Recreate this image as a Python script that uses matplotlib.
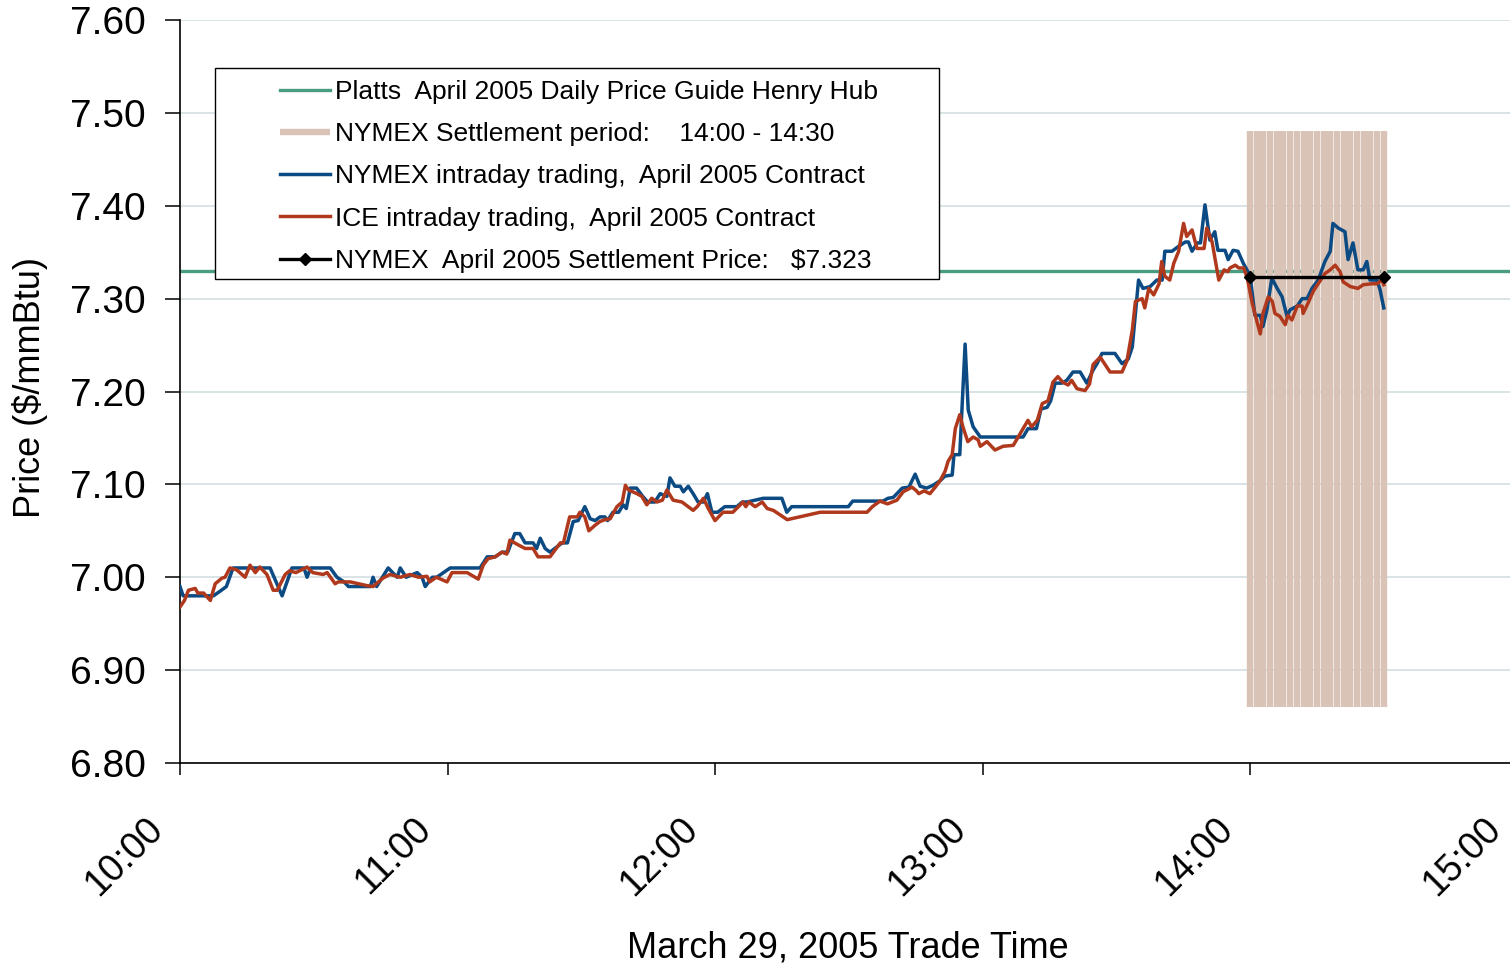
import matplotlib
matplotlib.use("Agg")
import matplotlib.pyplot as plt
from matplotlib.patches import Rectangle
from matplotlib.transforms import ScaledTranslation

plt.rcParams['font.family'] = ['Liberation Sans', 'DejaVu Sans']

# ---------------- data (minutes after 10:00, $/mmBtu) ----------------
nymex_t = [0, 0.7, 7.5, 9, 10.4, 11.9, 20.2, 22.9, 25.1, 27.8,
           28.5, 29.3, 33.7, 35.2, 36.8, 37.8, 42.7, 43.3, 44.1, 46.7,
           48.7, 49.4, 50.7, 53.2, 54.3, 55.0, 56.6, 57.6, 60.6, 67.3,
           68.9, 70.7, 72.2, 73.5, 75.1, 76.2, 77.4, 79.2, 80.0, 80.8,
           81.9, 83.0, 84.6, 85.7, 86.9, 88.2, 89.3, 90.8, 92.0, 93.1,
           94.2, 95.3, 95.9, 97.1, 98.4, 99.4, 100.1, 101.0, 102.4, 103.8,
           104.9, 106.5, 107.7, 109.2, 109.9, 111.0, 112.2, 112.9, 114.0, 115.1,
           116.2, 117.4, 118.3, 119.3, 120.6, 122.2, 124.9, 126.1, 127.2, 130.8,
           135.0, 136.1, 137.2, 149.9, 150.9, 157.7, 158.8, 160.0, 162.0, 163.5,
           164.9, 166.0, 167.5, 168.9, 170.5, 171.6, 173.2, 173.6, 174.9, 176.1,
           176.8, 177.9, 179.5, 189.1, 190.2, 192.1, 193.1, 194.5, 195.3, 196.3,
           197.8, 198.9, 200.3, 201.9, 203.4, 204.8, 205.7, 206.8, 209.7, 211.3,
           212.7, 213.6, 215.0, 216.0, 217.6, 219.1, 220.3, 220.9, 222.5, 223.9,
           225.5, 226.2, 227.0, 228.2, 228.9, 229.9, 231.0, 232.1, 232.8, 234.4,
           235.1, 236.2, 237.3, 238.5, 240.0, 241.1, 242.3, 242.9, 243.8, 244.9,
           246.1, 247.2, 248.3, 249.0, 250.6, 251.7, 252.8, 253.9, 255.3, 256.8,
           258.0, 258.6, 259.8, 261.3, 262.0, 263.1, 264.2, 265.4, 266.2, 266.9,
           268.5, 269.2, 270.0]
nymex_p = [6.99, 6.98, 6.98, 6.985, 6.99, 7.01, 7.01, 6.98, 7.01, 7.01,
           7.00, 7.01, 7.01, 7.00, 6.995, 6.99, 6.99, 7.00, 6.99, 7.01,
           7.00, 7.01, 7.00, 7.005, 7.00, 6.99, 7.00, 7.00, 7.01, 7.01,
           7.022, 7.022, 7.027, 7.027, 7.047, 7.047, 7.037, 7.037, 7.031, 7.042,
           7.031, 7.027, 7.033, 7.037, 7.037, 7.060, 7.061, 7.076, 7.063, 7.061,
           7.065, 7.065, 7.061, 7.070, 7.070, 7.078, 7.074, 7.096, 7.096, 7.087,
           7.081, 7.081, 7.090, 7.087, 7.107, 7.098, 7.098, 7.092, 7.098, 7.090,
           7.081, 7.081, 7.090, 7.070, 7.070, 7.076, 7.076, 7.081, 7.081, 7.085,
           7.085, 7.070, 7.076, 7.076, 7.082, 7.082, 7.085, 7.086, 7.096, 7.097,
           7.111, 7.098, 7.096, 7.099, 7.104, 7.109, 7.110, 7.132, 7.132, 7.251,
           7.180, 7.162, 7.151, 7.151, 7.160, 7.160, 7.181, 7.183, 7.190, 7.209,
           7.209, 7.212, 7.221, 7.221, 7.209, 7.223, 7.230, 7.241, 7.241, 7.230,
           7.235, 7.248, 7.320, 7.311, 7.313, 7.320, 7.320, 7.351, 7.351, 7.356,
           7.361, 7.361, 7.351, 7.360, 7.360, 7.401, 7.363, 7.372, 7.352, 7.352,
           7.342, 7.352, 7.351, 7.338, 7.325, 7.282, 7.282, 7.270, 7.288, 7.322,
           7.311, 7.302, 7.281, 7.288, 7.292, 7.300, 7.300, 7.311, 7.320, 7.340,
           7.351, 7.381, 7.376, 7.372, 7.342, 7.360, 7.331, 7.331, 7.340, 7.320,
           7.320, 7.309, 7.290]

ice_t = [0, 1.0, 1.9, 3.4, 4.0, 5.3, 6.8, 7.9, 9.4, 10.1,
         11.2, 12.7, 14.6, 15.7, 16.9, 17.9, 19.5, 20.9, 21.8, 23.6,
         24.6, 26.0, 28.5, 29.8, 32.1, 33.0, 34.8, 35.5, 38.2, 41.9,
         43.3, 45.5, 47.1, 49.4, 51.6, 53.5, 55.4, 56.0, 57.5, 59.9,
         61.0, 64.4, 66.9, 68.0, 69.1, 70.7, 72.2, 73.3, 74.0, 75.8,
         77.4, 79.2, 80.3, 83.0, 85.3, 86.0, 87.4, 89.1, 89.7, 90.8,
         91.7, 93.1, 94.2, 95.3, 96.5, 98.0, 99.2, 99.9, 100.6, 102.5,
         103.6, 104.7, 105.8, 107.0, 108.2, 109.2, 110.6, 112.6, 114.0, 115.1,
         116.0, 117.4, 118.5, 120.0, 121.8, 124.0, 126.3, 126.9, 127.6, 129.0,
         130.6, 131.7, 133.1, 136.2, 143.6, 154.1, 155.3, 157.0, 158.7, 160.8,
         162.2, 164.2, 165.2, 165.7, 166.9, 168.2, 169.4, 170.5, 171.6, 172.3,
         173.2, 173.9, 174.9, 175.6, 176.7, 177.9, 179.0, 179.5, 181.0, 182.8,
         184.6, 186.9, 188.0, 190.2, 191.0, 192.3, 193.4, 194.7, 195.8, 196.9,
         198.0, 199.2, 200.0, 201.2, 203.0, 204.0, 204.8, 206.4, 208.6, 211.3,
         212.4, 213.6, 214.3, 215.8, 216.4, 217.3, 218.4, 219.6, 220.2, 220.9,
         222.0, 222.9, 224.0, 225.1, 225.8, 227.0, 228.1, 229.7, 230.3, 231.5,
         233.0, 234.2, 235.0, 235.5, 236.7, 237.5, 238.6, 239.4, 240.5, 241.3,
         242.3, 242.9, 244.1, 245.0, 245.6, 246.7, 247.9, 248.5, 249.4, 250.6,
         251.7, 251.9, 253.0, 254.2, 255.3, 256.8, 258.0, 259.1, 260.2, 260.9,
         262.5, 264.2, 265.4, 267.4, 268.5, 269.6, 270.0]
ice_p = [6.968, 6.975, 6.986, 6.988, 6.983, 6.983, 6.975, 6.993, 6.999, 7.000,
         7.010, 7.008, 7.000, 7.013, 7.005, 7.011, 7.003, 6.986, 6.986, 7.003,
         7.007, 7.005, 7.011, 7.005, 7.003, 7.005, 6.993, 6.995, 6.995, 6.991,
         6.990, 6.999, 7.003, 7.000, 7.003, 7.000, 7.001, 6.995, 7.000, 6.995,
         7.005, 7.005, 6.998, 7.013, 7.020, 7.022, 7.027, 7.025, 7.040, 7.035,
         7.031, 7.031, 7.022, 7.022, 7.037, 7.037, 7.065, 7.065, 7.070, 7.065,
         7.050, 7.056, 7.060, 7.062, 7.063, 7.076, 7.081, 7.099, 7.094, 7.090,
         7.087, 7.078, 7.085, 7.081, 7.083, 7.094, 7.083, 7.081, 7.076, 7.072,
         7.076, 7.085, 7.074, 7.061, 7.070, 7.070, 7.081, 7.076, 7.081, 7.076,
         7.081, 7.074, 7.072, 7.062, 7.070, 7.070, 7.076, 7.082, 7.079, 7.083,
         7.092, 7.097, 7.093, 7.090, 7.093, 7.090, 7.097, 7.104, 7.114, 7.125,
         7.132, 7.160, 7.175, 7.162, 7.146, 7.151, 7.148, 7.141, 7.146, 7.137,
         7.141, 7.142, 7.151, 7.169, 7.162, 7.169, 7.187, 7.190, 7.210, 7.216,
         7.210, 7.207, 7.212, 7.203, 7.201, 7.208, 7.229, 7.237, 7.221, 7.221,
         7.233, 7.266, 7.297, 7.300, 7.290, 7.311, 7.304, 7.316, 7.340, 7.324,
         7.320, 7.338, 7.351, 7.381, 7.367, 7.374, 7.354, 7.354, 7.376, 7.361,
         7.320, 7.331, 7.329, 7.333, 7.336, 7.333, 7.333, 7.322, 7.295, 7.280,
         7.262, 7.284, 7.302, 7.297, 7.284, 7.281, 7.272, 7.282, 7.277, 7.292,
         7.292, 7.284, 7.295, 7.308, 7.316, 7.327, 7.331, 7.336, 7.329, 7.318,
         7.313, 7.311, 7.315, 7.316, 7.316, 7.320, 7.315]

platts_price = 7.33
settle_price = 7.323
settle_window = [240, 270]          # 14:00 - 14:30
settle_bar_t = [240, 241.5, 243, 244.5, 246, 247.5, 249, 250.5, 252, 253.5,
                255, 256.5, 258, 259.5, 261, 262.5, 264, 265.5, 267, 268.5, 270]
settle_bar_low, settle_bar_high = 6.86, 7.48

hour_ticks = [0, 60, 120, 180, 240, 300]
hour_labels = ['10:00', '11:00', '12:00', '13:00', '14:00', '15:00']
price_ticks = [6.80, 6.90, 7.00, 7.10, 7.20, 7.30, 7.40, 7.50, 7.60]

labels = ['Platts  April 2005 Daily Price Guide Henry Hub',
          'NYMEX Settlement period:    14:00 - 14:30',
          'NYMEX intraday trading,  April 2005 Contract',
          'ICE intraday trading,  April 2005 Contract',
          'NYMEX  April 2005 Settlement Price:   $7.323']

# ---------------- figure ----------------
W, H = 1510, 968
fig = plt.figure(figsize=(W / 100, H / 100), dpi=100)
ax_l, ax_r, ax_t, ax_b = 180, 1517.5, 20, 763
ax = fig.add_axes([ax_l / W, 1 - ax_b / H, (ax_r - ax_l) / W, (ax_b - ax_t) / H])

GREEN = '#4a9d80'
TAN = '#d9c3b6'
BLUE = '#0b4a82'
RED = '#b0391d'

ax.set_xlim(0, 300)
ax.set_ylim(6.8, 7.6)

h_platts = ax.axhline(platts_price, color=GREEN, lw=2.4, zorder=2, label=labels[0])
h_settle = ax.vlines(settle_bar_t, settle_bar_low, settle_bar_high, colors=TAN,
                     lw=4.6, zorder=3, label=labels[1])
h_nymex, = ax.plot(nymex_t, nymex_p, color=BLUE, lw=2.5, zorder=4, label=labels[2])
h_ice, = ax.plot(ice_t, ice_p, color=RED, lw=2.5, zorder=5, label=labels[3])
h_set, = ax.plot(settle_window, [settle_price, settle_price], color='black', lw=2.4,
                 marker='D', ms=6.5, zorder=6, label=labels[4])

# axes styling
ax.grid(axis='y', color='#d3dfe3', lw=1.2, zorder=0)
ax.set_axisbelow(True)
for s in ['top', 'right']:
    ax.spines[s].set_visible(False)
for s in ['left', 'bottom']:
    ax.spines[s].set_color('black')
    ax.spines[s].set_linewidth(1.2)

ax.set_yticks(price_ticks)
ax.set_yticklabels([f'{v:.2f}' for v in price_ticks])
ax.set_xticks(hour_ticks)
ax.set_xticklabels(hour_labels)
ax.tick_params(axis='y', length=10.8, width=1.1, pad=14, labelsize=28)
ax.tick_params(axis='x', length=8.6, width=1.1, pad=26, labelsize=27)
off = ScaledTranslation(-35 / 100, 0, fig.dpi_scale_trans)
for lab in ax.get_xticklabels():
    lab.set_rotation(45)
    lab.set_ha('right')
    lab.set_va('top')
    lab.set_rotation_mode('anchor')
    lab.set_transform(lab.get_transform() + off)

ax.set_xlabel('March 29, 2005 Trade Time', fontsize=26)
ax.xaxis.set_label_coords((848 - ax_l) / (ax_r - ax_l), -(948 - ax_b) / (ax_b - ax_t))
ax.xaxis.label.set_va('center')
ax.set_ylabel('Price ($/mmBtu)', fontsize=26)
ax.yaxis.set_label_coords((30 - ax_l) / (ax_r - ax_l), 1 - (388 - ax_t) / (ax_b - ax_t))
ax.yaxis.label.set_va('center')

# legend with a manually placed frame
aw, ah = ax_r - ax_l, ax_b - ax_t
rx0 = (215 - ax_l) / aw
rx1 = (939 - ax_l) / aw
ry1 = 1 - (68 - ax_t) / ah
ry0 = 1 - (279 - ax_t) / ah
frame = Rectangle((rx0, ry0), rx1 - rx0, ry1 - ry0, transform=ax.transAxes,
                  facecolor='white', edgecolor='black', lw=1.0, zorder=8, clip_on=False)
ax.add_patch(frame)
leg = ax.legend(handles=[h_platts, h_settle, h_nymex, h_ice, h_set], labels=labels,
                loc='upper left',
                bbox_to_anchor=((280 - ax_l) / aw, 1 - (80 - ax_t) / ah),
                frameon=False, fontsize=19, handlelength=1.9, handletextpad=0.2,
                labelspacing=0.69, borderpad=0, borderaxespad=0, numpoints=1)
leg.set_zorder(9)

fig.savefig('out.png', dpi=100)
